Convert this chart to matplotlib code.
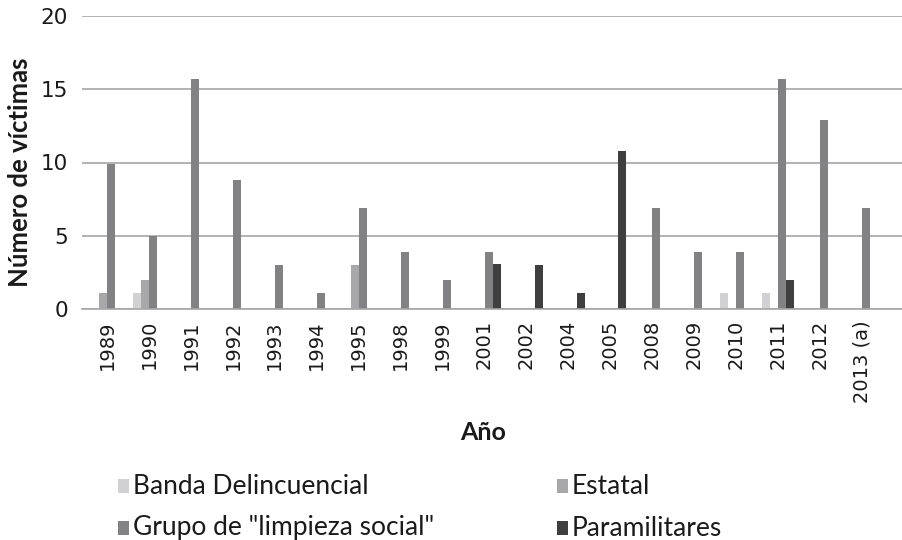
import matplotlib
matplotlib.use("Agg")
import matplotlib.pyplot as plt
from matplotlib.patches import Rectangle
import numpy as np

years = ["1989", "1990", "1991", "1992", "1993", "1994", "1995", "1998", "1999",
         "2001", "2002", "2004", "2005", "2008", "2009", "2010", "2011", "2012", "2013 (a)"]
series_names = ["Banda Delincuencial", "Estatal", 'Grupo de "limpieza social"', "Paramilitares"]
banda = [0, 1.1, 0, 0, 0, 0, 0, 0, 0, 0, 0, 0, 0, 0, 0, 1.1, 1.1, 0, 0]
estatal = [1.1, 2.0, 0, 0, 0, 0, 3.0, 0, 0, 0, 0, 0, 0, 0, 0, 0, 0, 0, 0]
grupo = [9.9, 5.0, 15.7, 8.8, 3.0, 1.1, 6.9, 3.9, 2.0, 3.9, 0, 0, 0, 6.9, 3.9, 3.9, 15.7, 12.9, 6.9]
paramilitares = [0, 0, 0, 0, 0, 0, 0, 0, 0, 3.1, 3.0, 1.1, 10.8, 0, 0, 0, 2.0, 0, 0]
yticks = [0, 5, 10, 15, 20]

colors = ["#d1d1d3", "#a8a8ab", "#828285", "#3f3f3f"]
data = [banda, estatal, grupo, paramilitares]

W, H = 902, 540
fig = plt.figure(figsize=(W / 100, H / 100), dpi=100)
ax = fig.add_axes([82 / W, (H - 309) / H, (W - 82) / W, (309 - 16) / H])

x = np.arange(len(years))
bw = 0.191
for i, (vals, c) in enumerate(zip(data, colors)):
    ax.bar(x + (i - 1.5) * bw, vals, width=bw, color=c, zorder=3, linewidth=0)

ax.set_ylim(0, 20)
ax.set_xlim(-0.597, 18.95)
ax.set_yticks(yticks)
ax.set_yticklabels([str(t) for t in yticks], fontsize=15.5, family="DejaVu Sans", color="#1a1a1a")
ax.set_xticks(x)
ax.set_xticklabels(years, rotation=90, fontsize=14, family="DejaVu Sans", color="#1a1a1a")
ax.tick_params(axis="both", length=0)
ax.tick_params(axis="y", pad=10)
ax.tick_params(axis="x", pad=8)
ax.grid(axis="y", color="#a6a6a6", linewidth=1.2, zorder=0)
for s in ["top", "right", "left"]:
    ax.spines[s].set_visible(False)
ax.spines["bottom"].set_color("#a6a6a6")
ax.spines["bottom"].set_linewidth(1.2)
ax.spines["bottom"].set_zorder(4)

fig.text(20 / W, 1 - 172 / H, "Número de víctimas", rotation=90, ha="center", va="center",
         fontsize=18.5, fontweight="bold", family="Lato", color="#1a1a1a")
fig.text(483 / W, 1 - 433 / H, "Año", ha="center", va="center",
         fontsize=18, fontweight="bold", family="Lato", color="#1a1a1a")

# legend (manual, 2 columns)
pos = [(118, 486), (557, 486), (118, 528), (557, 528)]
for name, c, (px, py) in zip(series_names, colors, pos):
    fig.add_artist(Rectangle((px / W, 1 - (py + 7) / H), 11 / W, 14 / H,
                             transform=fig.transFigure, facecolor=c, edgecolor="none"))
    fig.text((px + 15) / W, 1 - py / H, name, ha="left", va="center",
             fontsize=19, family="Lato", color="#1a1a1a")

fig.savefig("out.png", dpi=100)
